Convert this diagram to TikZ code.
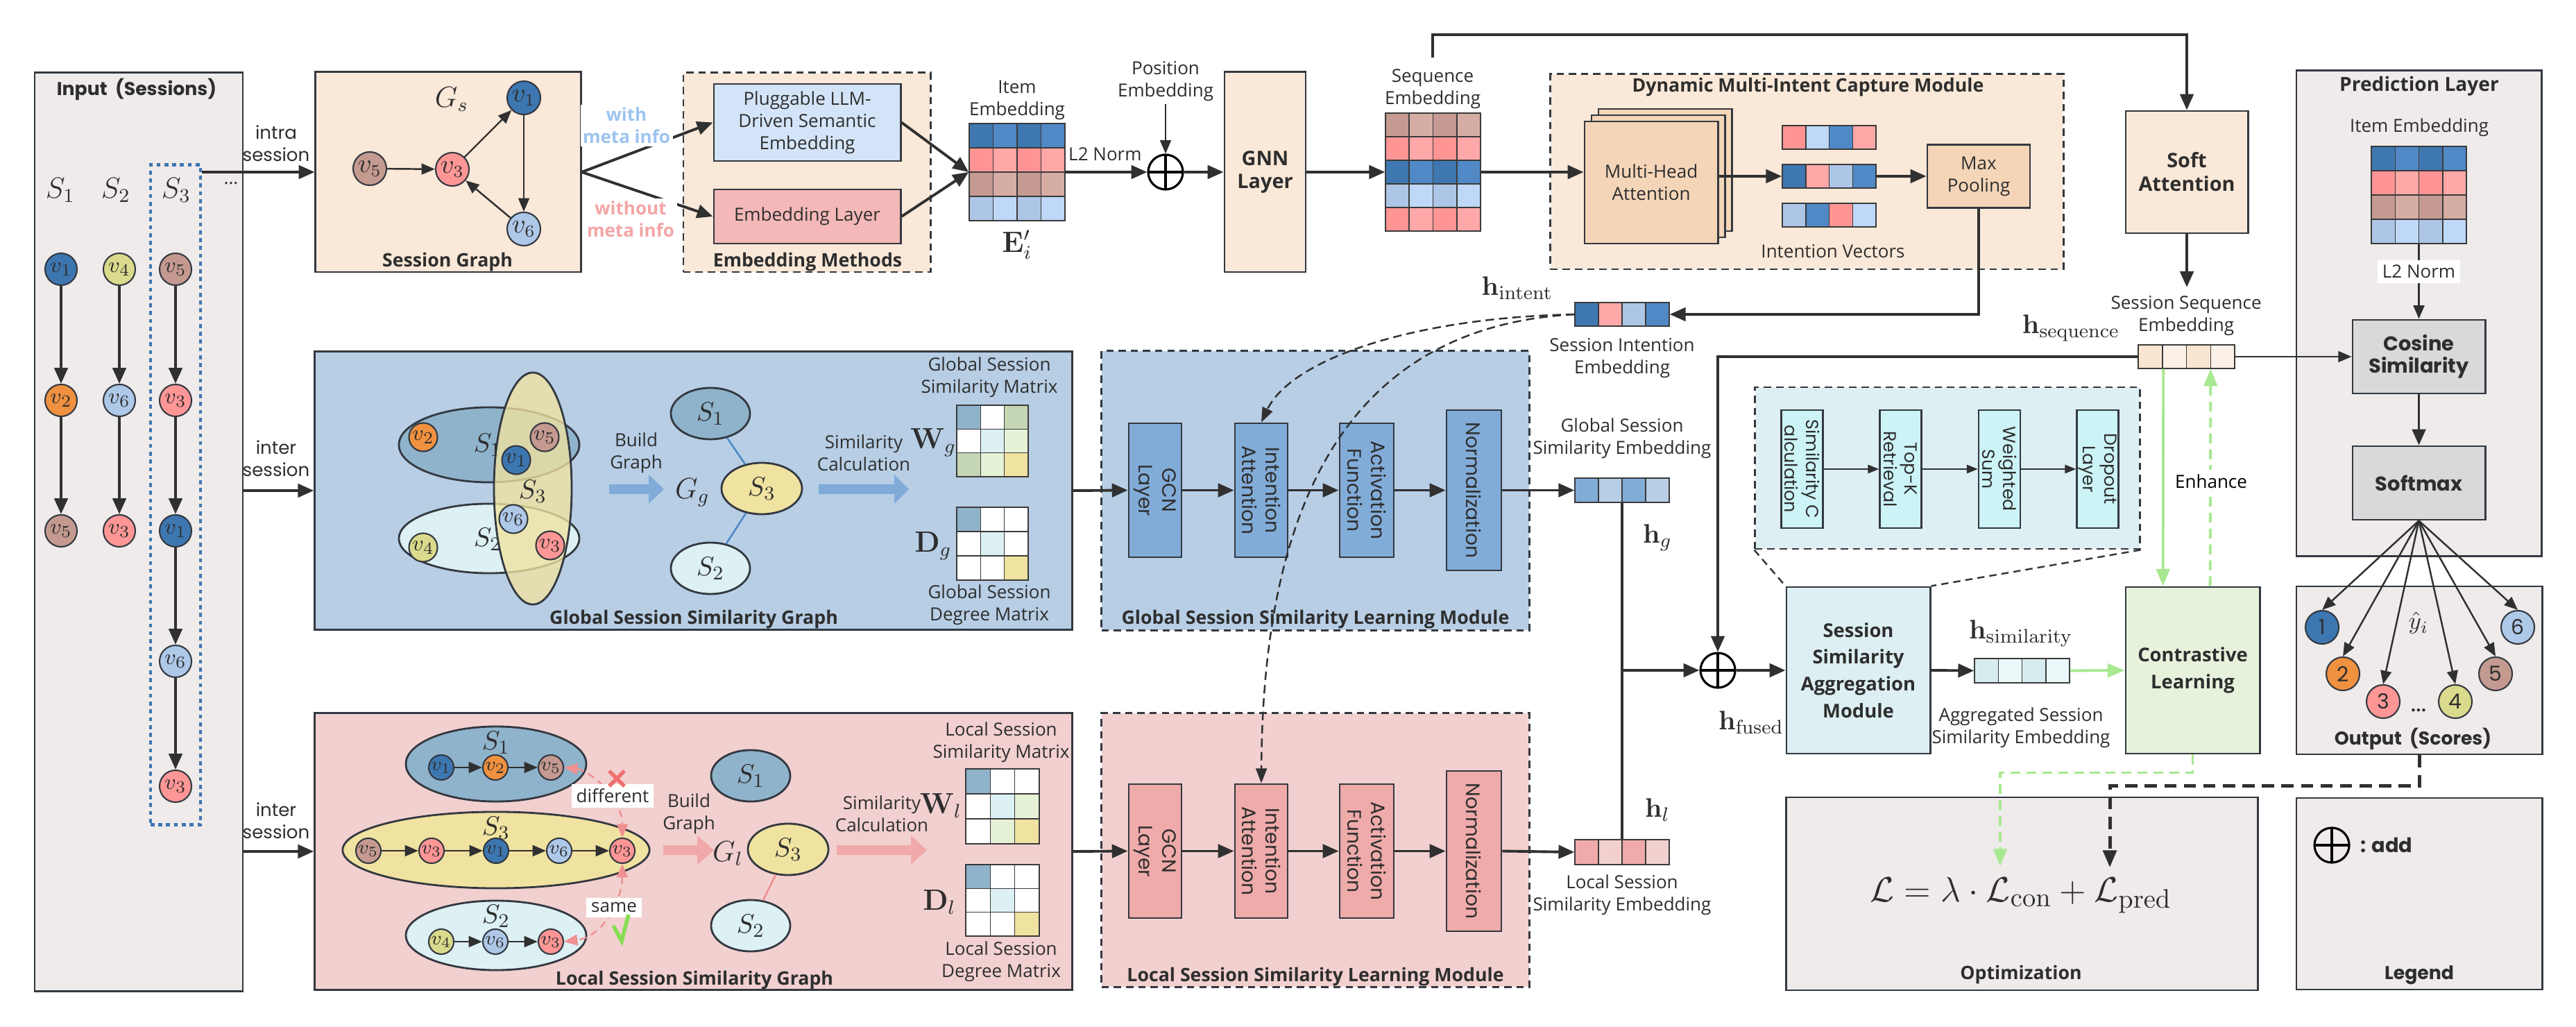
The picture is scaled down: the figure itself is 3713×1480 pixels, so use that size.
\documentclass[tikz,border=0pt]{standalone}
\usepackage[no-math]{fontspec}
\setmainfont{Open Sans}
\newfontfamily\wideff{Poppins}
\usepackage{amsmath}
\usetikzlibrary{arrows.meta,shapes.geometric,calc}

\definecolor{txt}{HTML}{2E2E2E}
\definecolor{bdc}{HTML}{333840}
\definecolor{arc}{HTML}{303030}
\definecolor{cellc}{HTML}{3A3A3A}
\definecolor{peach}{HTML}{FAE8D8}
\definecolor{tanc}{HTML}{F4D5B8}
\definecolor{plugc}{HTML}{D4E4F8}
\definecolor{elayc}{HTML}{F4B8B8}
\definecolor{greyc}{HTML}{EFEBEA}
\definecolor{gbgc}{HTML}{B7CEE5}
\definecolor{gboxc}{HTML}{82ACD8}
\definecolor{lbgc}{HTML}{F2D0D0}
\definecolor{lboxc}{HTML}{EFAAAA}
\definecolor{aggc}{HTML}{DDEFF2}
\definecolor{insc}{HTML}{CCF3F5}
\definecolor{conc}{HTML}{E6F2DC}
\definecolor{cosc}{HTML}{D9D9D9}
\definecolor{vA}{HTML}{3D77B1}
\definecolor{vB}{HTML}{F0913F}
\definecolor{vC}{HTML}{FF9696}
\definecolor{vD}{HTML}{DADA8C}
\definecolor{vE}{HTML}{C49A90}
\definecolor{vF}{HTML}{AEC8E8}
\definecolor{eS1}{HTML}{8FB3CB}
\definecolor{eS2}{HTML}{DDF0F3}
\definecolor{eS3}{HTML}{F0E2A0}
\definecolor{mG}{HTML}{C5D6B5}
\definecolor{mGl}{HTML}{E6F2D6}
\definecolor{cA}{HTML}{3F78B0}
\definecolor{cAl}{HTML}{5089C6}
\definecolor{cP}{HTML}{FF9494}
\definecolor{cPl}{HTML}{FFA8A8}
\definecolor{cBr}{HTML}{C49A92}
\definecolor{cBrl}{HTML}{D6ADA4}
\definecolor{cL}{HTML}{AEC6E6}
\definecolor{cLl}{HTML}{BFD8F8}
\definecolor{sq}{HTML}{FAE5D3}
\definecolor{sql}{HTML}{FCF1E8}
\definecolor{sm}{HTML}{D7ECEF}
\definecolor{sml}{HTML}{EAF8FA}
\definecolor{grn}{HTML}{A8E890}
\definecolor{withc}{HTML}{9DC3F0}
\definecolor{woc}{HTML}{F4A5A5}
\definecolor{barb}{HTML}{80ABD8}
\definecolor{barp}{HTML}{F0A8A8}
\definecolor{gedge}{HTML}{4A86C5}
\definecolor{pedge}{HTML}{F08C8C}
\definecolor{pdc}{HTML}{F09090}
\definecolor{dotc}{HTML}{3D77B1}
\definecolor{redx}{HTML}{F07070}
\definecolor{chk}{HTML}{88DD55}

\newcommand{\myLbl}{\fontsize{7.4}{9.1}\selectfont}
\newcommand{\myTtl}{\bfseries\fontsize{7.6}{9.2}\selectfont}
\newcommand{\myWide}{\wideff\fontsize{7.4}{9.1}\selectfont}
\newcommand{\myWideB}{\wideff\bfseries\fontsize{7.6}{9.2}\selectfont}
\newcommand{\myMath}{\fontsize{11}{12}\selectfont}
\newcommand{\myNode}{\fontsize{9.5}{10}\selectfont}

\newcommand{\cells}[5]{%
  \foreach \cc [count=\ii from 0] in {#5}{%
    \filldraw[fill=\cc, draw=cellc, line width=0.45pt] ({#1+\ii*#3},{#2}) rectangle ({#1+(\ii+1)*#3},{#2+#4});
  }%
}
\newcommand{\blkarrow}[5]{%
  \fill[#5] ({#1},{#4-7}) -- ({#2},{#4-7}) -- ({#2},{#4-21}) -- ({#3},{#4}) -- ({#2},{#4+21}) -- ({#2},{#4+7}) -- ({#1},{#4+7}) -- cycle;
}

\begin{document}
\begin{tikzpicture}[x=0.01cm, y=-0.01cm,
  box/.style={draw=bdc, line width=0.8pt, inner sep=0pt},
  dbox/.style={draw=bdc, line width=0.8pt, dash pattern=on 3pt off 2pt, inner sep=0pt},
  lbl/.style={font=\myLbl, text=txt, align=center, inner sep=1pt},
  ttl/.style={font=\myTtl, text=txt, align=center, inner sep=1pt},
  wlbl/.style={font=\myWide, text=txt, align=center, inner sep=1pt},
  wttl/.style={font=\myWideB, text=txt, align=center, inner sep=1pt},
  mth/.style={font=\myMath, text=txt, inner sep=1pt},
  arr/.style={draw=arc, line width=1.1pt, -{Triangle[length=6.5pt,width=5.5pt]}},
  marr/.style={draw=arc, line width=0.7pt, -{Triangle[length=5.5pt,width=4.5pt]}},
  tarr/.style={draw=arc, line width=0.5pt, -{Triangle[length=4.5pt,width=3.5pt]}},
  garr/.style={draw=grn, line width=1.1pt, -{Triangle[length=7pt,width=5.5pt]}},
  gdarr/.style={garr, dash pattern=on 4pt off 2.5pt},
  darr/.style={draw=arc, line width=0.7pt, dash pattern=on 3.5pt off 2pt, -{Triangle[length=6pt,width=4.5pt]}},
  vn/.style={circle, draw=bdc, line width=0.6pt, inner sep=0pt, text=txt, font=\myNode},
  vlbl/.style={font=\wideff\fontsize{8}{9.6}\selectfont, text=txt, align=center, inner sep=0pt, rotate=-90},
  oplus/.style={circle, draw=black, line width=0.9pt, minimum size=0.5cm, inner sep=0pt,
    path picture={\draw[line width=0.9pt] (path picture bounding box.north) -- (path picture bounding box.south) (path picture bounding box.west) -- (path picture bounding box.east);}},
  ell/.style={ellipse, draw=bdc, line width=0.8pt, inner sep=0pt},
]
\fill[white] (0,0) rectangle (3713,1480);
\useasboundingbox (0,0) rectangle (3713,1480);

%================ INPUT =================
\node[box, fill=greyc, minimum width=3.00cm, minimum height=13.23cm] (input) at (200,766.5) {};
\node[wttl] (inputt) at (197,129) {Input\ \ (Sessions)};
\node[mth, font=\fontsize{11.5}{12}\selectfont] (is1) at (87,274) {$S_1$};
\node[mth, font=\fontsize{11.5}{12}\selectfont] (is2) at (167,274) {$S_2$};
\node[mth, font=\fontsize{11.5}{12}\selectfont] (is3) at (254,274) {$S_3$};
\node[lbl] (idots) at (333,264) {...};
\node[draw=dotc, line width=1.3pt, dash pattern=on 1.6pt off 1.6pt, minimum width=0.72cm, minimum height=9.50cm, inner sep=0pt] (s3box) at (253,713) {};
\node[vn, fill=vA, minimum size=0.46cm] (i11) at (88,388) {$v_1$};
\node[vn, fill=vB, minimum size=0.46cm] (i12) at (88,577) {$v_2$};
\node[vn, fill=vE, minimum size=0.46cm] (i13) at (88,765) {$v_5$};
\node[vn, fill=vD, minimum size=0.46cm] (i21) at (172,388) {$v_4$};
\node[vn, fill=vF, minimum size=0.46cm] (i22) at (172,577) {$v_6$};
\node[vn, fill=vC, minimum size=0.46cm] (i23) at (172,765) {$v_3$};
\node[vn, fill=vE, minimum size=0.46cm] (i31) at (253,388) {$v_5$};
\node[vn, fill=vC, minimum size=0.46cm] (i32) at (253,577) {$v_3$};
\node[vn, fill=vA, minimum size=0.46cm] (i33) at (253,765) {$v_1$};
\node[vn, fill=vF, minimum size=0.46cm] (i34) at (253,953) {$v_6$};
\node[vn, fill=vC, minimum size=0.46cm] (i35) at (253,1133) {$v_3$};
\draw[arr] (i11) -- (i12); \draw[arr] (i12) -- (i13);
\draw[arr] (i21) -- (i22); \draw[arr] (i22) -- (i23);
\draw[arr] (i31) -- (i32); \draw[arr] (i32) -- (i33); \draw[arr] (i33) -- (i34); \draw[arr] (i34) -- (i35);

%================ SESSION GRAPH =================
\node[box, fill=peach, minimum width=3.82cm, minimum height=2.88cm] (sg) at (646,248) {};
\node[mth, font=\fontsize{12}{12}\selectfont] (gsl) at (651,143) {$G_s$};
\node[vn, fill=vE, minimum size=0.48cm, font=\fontsize{10.5}{11}\selectfont] (g5) at (533,243) {$v_5$};
\node[vn, fill=vC, minimum size=0.48cm, font=\fontsize{10.5}{11}\selectfont] (g3) at (652,244) {$v_3$};
\node[vn, fill=vA, minimum size=0.48cm, font=\fontsize{10.5}{11}\selectfont] (g1) at (755,141) {$v_1$};
\node[vn, fill=vF, minimum size=0.48cm, font=\fontsize{10.5}{11}\selectfont] (g6) at (755,330) {$v_6$};
\draw[marr] (g5) -- (g3); \draw[marr] (g3) -- (g1); \draw[marr] (g1) -- (g6); \draw[marr] (g6) -- (g3);
\node[ttl] (sgt) at (645,378) {Session Graph};

%================ EMBEDDING METHODS =================
\node[dbox, fill=peach, minimum width=3.56cm, minimum height=2.87cm] (embm) at (1163,248.5) {};
\node[box, lbl, fill=plugc, minimum width=2.69cm, minimum height=1.11cm] (plug) at (1163.5,176.5) {Pluggable LLM-\\Driven Semantic\\Embedding};
\node[box, lbl, fill=elayc, minimum width=2.69cm, minimum height=0.78cm] (emblayer) at (1163.5,312) {Embedding Layer};
\node[ttl] (embmt) at (1164,378) {Embedding Methods};
\draw[arr] (sg.east) -- (plug.west);
\draw[arr] (sg.east) -- (emblayer.west);
\node[lbl, font=\bfseries\myLbl, text=withc, fill=white] (withl) at (903,181) {with\\meta info};
\node[lbl, font=\bfseries\myLbl, text=woc, fill=white] (wol) at (909,316) {without\\meta info};

%================ ITEM EMBEDDING / GNN =================
\node[lbl] (itemembl) at (1466,144) {Item\\Embedding};
\node[inner sep=0pt, minimum width=1.38cm, minimum height=1.40cm] (itemmat) at (1466,248) {};
\cells{1397}{178}{34.5}{35}{cA,cAl,cA,cAl}
\cells{1397}{213}{34.5}{35}{cP,cPl,cP,cPl}
\cells{1397}{248}{34.5}{35}{cBr,cBrl,cBr,cBrl}
\cells{1397}{283}{34.5}{35}{cL,cLl,cL,cLl}
\node[mth, font=\fontsize{12}{12}\selectfont] (eil) at (1466,353) {$\mathbf{E}_i'$};
\node[lbl, anchor=west] (l2a) at (1536,222) {L2 Norm};
\draw[arr] (plug.east) -- (itemmat.west);
\draw[arr] (emblayer.east) -- (itemmat.west);
\node[oplus] (op1) at (1680,248) {};
\node[lbl] (posl) at (1680,117) {Position\\Embedding};
\draw[marr] (posl.south) -- (op1.north);
\draw[arr] (itemmat.east) -- (op1.west);
\node[box, ttl, fill=peach, font=\bfseries\fontsize{8.2}{9.6}\selectfont, minimum width=1.17cm, minimum height=2.88cm] (gnn) at (1823.5,248) {GNN\\Layer};
\draw[arr] (op1.east) -- (gnn.west);

\node[lbl] (seql) at (2065,128) {Sequence\\Embedding};
\node[inner sep=0pt, minimum width=1.37cm, minimum height=1.70cm] (seqmat) at (2065.5,248) {};
\cells{1997}{163}{34.25}{34}{cBr,cBrl,cBr,cBrl}
\cells{1997}{197}{34.25}{34}{cP,cPl,cP,cPl}
\cells{1997}{231}{34.25}{34}{cA,cAl,cA,cAl}
\cells{1997}{265}{34.25}{34}{cL,cLl,cL,cLl}
\cells{1997}{299}{34.25}{34}{cP,cPl,cP,cPl}
\draw[arr] (gnn.east) -- (seqmat.west);

%================ DYNAMIC MULTI-INTENT =================
\node[dbox, fill=peach, minimum width=7.39cm, minimum height=2.81cm] (dmic) at (2604.5,247.5) {};
\node[ttl] (dmict) at (2606,126) {Dynamic Multi-Intent Capture Module};
\node[box, fill=tanc, minimum width=1.92cm, minimum height=1.76cm] (mha3) at (2400,245) {};
\node[box, fill=tanc, minimum width=1.92cm, minimum height=1.76cm] (mha2) at (2390,254) {};
\node[box, lbl, fill=tanc, minimum width=1.92cm, minimum height=1.76cm] (mha) at (2380,263) {Multi-Head\\Attention};
\draw[arr] (seqmat.east) -- (mha.west |- seqmat.east);
\node[inner sep=0pt, minimum width=1.35cm, minimum height=0.34cm] (iv1) at (2636.5,198) {};
\node[inner sep=0pt, minimum width=1.35cm, minimum height=0.34cm] (iv2) at (2636.5,254) {};
\node[inner sep=0pt, minimum width=1.35cm, minimum height=0.34cm] (iv3) at (2636.5,310) {};
\cells{2569}{181}{33.75}{34}{cP,cLl,cAl,cPl}
\cells{2569}{237}{33.75}{34}{cA,cPl,cL,cAl}
\cells{2569}{293}{33.75}{34}{cL,cAl,cP,cLl}
\node[lbl] (ivl) at (2642,362) {Intention Vectors};
\node[box, lbl, fill=tanc, minimum width=1.48cm, minimum height=0.91cm] (maxpool) at (2852,254) {Max\\Pooling};
\draw[arr] (mha.east |- iv2.west) -- (iv2.west);
\draw[arr] (iv2.east) -- (maxpool.west);

\node[inner sep=0pt, minimum width=1.36cm, minimum height=0.34cm] (sessint) at (2338,453) {};
\cells{2270}{436}{34}{34}{cA,cPl,cL,cAl}
\node[mth] (hint) at (2187,415) {$\mathbf{h}_{\mathrm{intent}}$};
\node[lbl] (sintl) at (2338,516) {Session Intention\\Embedding};
\draw[arr] (maxpool.south) |- (sessint.east);

%================ SOFT ATTENTION =================
\node[box, ttl, fill=peach, font=\bfseries\fontsize{8.2}{9.6}\selectfont, minimum width=1.76cm, minimum height=1.76cm] (softatt) at (3152,248) {Soft\\Attention};
\coordinate (seqtop) at (2065,83);
\draw[arr] (seqtop) -- ++(0,-33) -| (softatt.north);
\coordinate (ssend) at (3152,414);
\draw[arr] (softatt.south) -- (ssend);
\node[lbl] (ssel) at (3151,455) {Session Sequence\\Embedding};
\node[mth] (hseq) at (2985,473) {$\mathbf{h}_{\mathrm{sequence}}$};
\node[inner sep=0pt, minimum width=1.39cm, minimum height=0.34cm] (seqvec) at (3151.5,514) {};
\cells{3082}{497}{34.75}{34}{sq,sql,sq,sql}

%================ PREDICTION LAYER =================
\node[box, fill=greyc, minimum width=3.53cm, minimum height=6.99cm] (pred) at (3486.5,451.5) {};
\node[ttl, font=\bfseries\fontsize{8}{9.5}\selectfont] (predt) at (3487,124) {Prediction Layer};
\node[lbl] (pitl) at (3487,184) {Item Embedding};
\node[inner sep=0pt, minimum width=1.37cm, minimum height=1.40cm] (predmat) at (3486.5,281) {};
\cells{3418}{211}{34.25}{35}{cA,cAl,cA,cAl}
\cells{3418}{246}{34.25}{35}{cP,cPl,cP,cPl}
\cells{3418}{281}{34.25}{35}{cBr,cBrl,cBr,cBrl}
\cells{3418}{316}{34.25}{35}{cL,cLl,cL,cLl}
\node[box, wttl, font=\wideff\bfseries\fontsize{8.2}{9.2}\selectfont, fill=cosc, minimum width=1.91cm, minimum height=1.06cm] (cosine) at (3486.5,514) {Cosine\\Similarity};
\node[box, wttl, font=\wideff\bfseries\fontsize{8.2}{9.2}\selectfont, fill=cosc, minimum width=1.91cm, minimum height=1.06cm] (softmax) at (3486.5,696) {Softmax};
\draw[marr] (predmat.south) -- (cosine.north) node[pos=0.37, lbl, fill=white, inner sep=2pt] (l2b) {L2 Norm};
\draw[arr] (cosine.south) -- (softmax.north);
\draw[marr] (seqvec.east) -- (cosine.west);

\node[box, fill=greyc, minimum width=3.54cm, minimum height=2.42cm] (output) at (3487,966) {};
\node[vn, fill=vA, minimum size=0.48cm, font=\wideff\fontsize{8.5}{8.5}\selectfont] (o1) at (3347,904) {1};
\node[vn, fill=vB, minimum size=0.48cm, font=\wideff\fontsize{8.5}{8.5}\selectfont] (o2) at (3377,971) {2};
\node[vn, fill=vC, minimum size=0.48cm, font=\wideff\fontsize{8.5}{8.5}\selectfont] (o3) at (3435,1011) {3};
\node[vn, fill=vD, minimum size=0.48cm, font=\wideff\fontsize{8.5}{8.5}\selectfont] (o4) at (3539,1011) {4};
\node[vn, fill=vE, minimum size=0.48cm, font=\wideff\fontsize{8.5}{8.5}\selectfont] (o5) at (3597,971) {5};
\node[vn, fill=vF, minimum size=0.48cm, font=\wideff\fontsize{8.5}{8.5}\selectfont] (o6) at (3629,904) {6};
\foreach \k in {1,...,6}{\draw[marr] (softmax.south) -- (o\k.north);}
\node[mth, font=\fontsize{10}{10}\selectfont] (yhat) at (3486,898) {$\hat{y}_i$};
\node[lbl, font=\bfseries\myLbl] (odots) at (3486,1024) {...};
\node[wttl] (outt) at (3478,1065) {Output\ \ (Scores)};

\node[box, fill=greyc, minimum width=3.54cm, minimum height=2.76cm] (legend) at (3487,1288) {};
\node[oplus] (legop) at (3361,1218) {};
\node[wttl, font=\wideff\bfseries\fontsize{8.2}{9.2}\selectfont, anchor=west] (legadd) at (3398,1218) {: add};
\node[wttl] (legt) at (3487,1405) {Legend};

%================ OPTIMIZATION =================
\node[box, fill=greyc, minimum width=6.79cm, minimum height=2.78cm] (optim) at (2914.5,1288) {};
\node[text=txt, font=\fontsize{15}{16}\selectfont] (formula) at (2913,1290) {$\mathcal{L} = \lambda \cdot \mathcal{L}_{\mathrm{con}} + \mathcal{L}_{\mathrm{pred}}$};
\node[ttl] (optt) at (2913,1405) {Optimization};
\coordinate (predend) at (3041,1250);
\coordinate (conend) at (2883,1248);

%================ AGGREGATION / CONTRASTIVE =================
\node[box, fill=conc, font=\bfseries\fontsize{7.8}{11}\selectfont, text=txt, align=center, minimum width=1.93cm, minimum height=2.40cm] (contrast) at (3160.5,966) {Contrastive\\Learning};
\node[box, fill=aggc, font=\bfseries\fontsize{7.8}{11}\selectfont, text=txt, align=center, minimum width=2.07cm, minimum height=2.40cm] (aggr) at (2678.5,966) {Session\\Similarity\\Aggregation\\Module};
\node[oplus] (fuse) at (2476,966) {};
\node[mth] (hfused) at (2524,1041) {$\mathbf{h}_{\mathrm{fused}}$};
\node[inner sep=0pt, minimum width=1.37cm, minimum height=0.35cm] (simvec) at (2914.5,966.5) {};
\cells{2846}{949}{34.25}{35}{sm,sml,sm,sml}
\node[mth] (hsim) at (2913,913) {$\mathbf{h}_{\mathrm{similarity}}$};
\node[lbl] (aggl) at (2913,1049) {Aggregated Session\\Similarity Embedding};
\draw[arr] (fuse.east) -- (aggr.west);
\draw[arr] (aggr.east) -- (simvec.west);
\draw[garr] (simvec.east) -- (contrast.west);
\draw[arr] (seqvec.west) -| (fuse.north);
\draw[garr] ([xshift=0.37cm]seqvec.south west) -- ([xshift=0.55cm]contrast.north west);
\draw[gdarr] ([xshift=1.23cm]contrast.north west) -- ([xshift=1.05cm]seqvec.south west);
\node[lbl, text=black, fill=white, inner sep=2pt] (enh) at (3187,694) {Enhance};

\node[dbox, fill=aggc, minimum width=5.54cm, minimum height=2.33cm] (inset) at (2807,674.5) {};
\node[box, fill=insc, line width=0.7pt, minimum width=0.60cm, minimum height=1.70cm] (ib1) at (2597.5,676) {};
\node[box, fill=insc, line width=0.7pt, minimum width=0.60cm, minimum height=1.70cm] (ib2) at (2739.5,676) {};
\node[box, fill=insc, line width=0.7pt, minimum width=0.60cm, minimum height=1.70cm] (ib3) at (2882,676) {};
\node[box, fill=insc, line width=0.7pt, minimum width=0.60cm, minimum height=1.70cm] (ib4) at (3023.5,676) {};
\node[vlbl, font=\wideff\fontsize{7.2}{8.6}\selectfont] (ib1t) at (ib1) {Similarity C\\alculation};
\node[vlbl, font=\wideff\fontsize{7.2}{8.6}\selectfont] (ib2t) at (ib2) {Top-K\\Retrieval};
\node[vlbl, font=\wideff\fontsize{7.2}{8.6}\selectfont] (ib3t) at (ib3) {Weighted\\Sum};
\node[vlbl, font=\wideff\fontsize{7.2}{8.6}\selectfont] (ib4t) at (ib4) {Dropout\\Layer};
\draw[tarr] (ib1.east) -- (ib2.west);
\draw[tarr] (ib2.east) -- (ib3.west);
\draw[tarr] (ib3.east) -- (ib4.west);
\draw[draw=bdc, line width=0.7pt, dash pattern=on 3pt off 2pt] (inset.south west) -- (aggr.north west);
\draw[draw=bdc, line width=0.7pt, dash pattern=on 3pt off 2pt] (inset.south east) -- (aggr.north east);

%================ GLOBAL GRAPH =================
\node[box, fill=gbgc, minimum width=10.91cm, minimum height=4.00cm] (ggraph) at (999.5,707) {};
\node[ell, fill=eS1, minimum width=2.60cm, minimum height=1.08cm] (gS1) at (705,641) {};
\node[ell, fill=eS2, minimum width=2.60cm, minimum height=1.00cm] (gS2) at (705,776) {};
\node[mth, font=\fontsize{11}{11}\selectfont] (gS1l) at (703,641) {$S_1$};
\node[mth, font=\fontsize{11}{11}\selectfont] (gS2l) at (703,777) {$S_2$};
\node[ell, fill=eS3, fill opacity=0.78, minimum width=1.12cm, minimum height=3.34cm] (gS3) at (768,704) {};
\node[vn, fill=vB, minimum size=0.41cm] (gv2) at (610,630) {$v_2$};
\node[vn, fill=vD, minimum size=0.41cm] (gv4) at (610,789) {$v_4$};
\node[vn, fill=vE, minimum size=0.41cm] (gv5) at (785,630) {$v_5$};
\node[vn, fill=vA, minimum size=0.41cm] (gv1) at (744,663) {$v_1$};
\node[vn, fill=vF, minimum size=0.41cm] (gv6) at (740,748) {$v_6$};
\node[vn, fill=vC, minimum size=0.41cm] (gv3) at (793,786) {$v_3$};
\node[mth, font=\fontsize{11}{11}\selectfont] (gS3l) at (768,708) {$S_3$};
\blkarrow{878}{935}{957}{705}{barb}
\node[lbl] (gbuild) at (917,653) {Build\\Graph};
\node[mth, font=\fontsize{12}{12}\selectfont] (ggl) at (998,710) {$G_g$};
\node[ell, fill=eS1, minimum width=1.14cm, minimum height=0.74cm] (gc1) at (1024,596) {};
\node[ell, fill=eS3, minimum width=1.16cm, minimum height=0.74cm] (gc3) at (1098,704) {};
\node[ell, fill=eS2, minimum width=1.14cm, minimum height=0.74cm] (gc2) at (1024,819) {};
\node[mth, font=\fontsize{11}{11}\selectfont] at (gc1) (gc1l) {$S_1$};
\node[mth, font=\fontsize{11}{11}\selectfont] at (gc3) (gc3l) {$S_3$};
\node[mth, font=\fontsize{11}{11}\selectfont] at (gc2) (gc2l) {$S_2$};
\draw[draw=gedge, line width=0.7pt] (gc1) -- (gc3);
\draw[draw=gedge, line width=0.7pt] (gc3) -- (gc2);
\blkarrow{1180}{1289}{1310}{705}{barb}
\node[lbl] (gsim) at (1245,653) {Similarity\\Calculation};
\node[mth, font=\fontsize{12}{12}\selectfont] (wgl) at (1345,638) {$\mathbf{W}_g$};
\node[mth, font=\fontsize{12}{12}\selectfont] (dgl) at (1345,787) {$\mathbf{D}_g$};
\node[inner sep=0pt, minimum width=1.03cm, minimum height=1.03cm] (wgm) at (1430.5,635.5) {};
\cells{1379}{584}{34.33}{34.33}{eS1,white,mG}
\cells{1379}{618.33}{34.33}{34.33}{white,eS2,mGl}
\cells{1379}{652.66}{34.33}{34.33}{mG,mGl,eS3}
\node[inner sep=0pt, minimum width=1.03cm, minimum height=1.05cm] (dgm) at (1430.5,783.5) {};
\cells{1379}{731}{34.33}{35}{eS1,white,white}
\cells{1379}{766}{34.33}{35}{white,eS2,white}
\cells{1379}{801}{34.33}{35}{white,white,eS3}
\node[lbl] (wgt) at (1426,544) {Global Session\\Similarity Matrix};
\node[lbl] (dgt) at (1426,872) {Global Session\\Degree Matrix};
\node[ttl] (ggt) at (1000,893) {Global Session Similarity Graph};

%================ GLOBAL MODULE =================
\node[dbox, fill=gbgc, minimum width=6.16cm, minimum height=4.02cm] (gmod) at (1896,707) {};
\node[box, fill=gboxc, minimum width=0.76cm, minimum height=1.93cm] (ggcn) at (1665,706.5) {};
\node[box, fill=gboxc, minimum width=0.76cm, minimum height=1.93cm] (gatt) at (1818,706.5) {};
\node[box, fill=gboxc, minimum width=0.78cm, minimum height=1.93cm] (gact) at (1970,706.5) {};
\node[box, fill=gboxc, minimum width=0.79cm, minimum height=2.31cm] (gnorm) at (2124.5,706.5) {};
\node[vlbl] (ggcnt) at (ggcn) {GCN\\Layer};
\node[vlbl] (gattt) at (gatt) {Intention\\Attention};
\node[vlbl] (gactt) at (gact) {Activation\\Function};
\node[vlbl] (gnormt) at (gnorm) {Normalization};
\node[ttl] (gmodt) at (1896,893) {Global Session Similarity Learning Module};
\node[inner sep=0pt, minimum width=1.36cm, minimum height=0.35cm] (gvec) at (2338,706.5) {};
\cells{2270}{689}{34}{35}{gboxc,gbgc,gboxc,gbgc}
\node[lbl] (gvecl) at (2338,632) {Global Session\\Similarity Embedding};
\node[mth] (hgl) at (2389,775) {$\mathbf{h}_g$};
\draw[arr] (ggraph.east) -- (ggcn.west);
\draw[arr] (ggcn.east) -- (gatt.west);
\draw[arr] (gatt.east) -- (gact.west);
\draw[arr] (gact.east) -- (gnorm.west);
\draw[arr] (gnorm.east) -- (gvec.west);

%================ LOCAL GRAPH =================
\node[box, fill=lbgc, minimum width=10.91cm, minimum height=3.98cm] (lgraph) at (999.5,1227) {};
\node[ell, fill=eS1, minimum width=2.60cm, minimum height=1.08cm] (lS1) at (715,1101) {};
\node[ell, fill=eS3, minimum width=4.42cm, minimum height=1.10cm] (lS3) at (715,1225) {};
\node[ell, fill=eS2, minimum width=2.60cm, minimum height=1.00cm] (lS2) at (715,1348) {};
\node[mth, font=\fontsize{11}{11}\selectfont] (lS1l) at (715,1070) {$S_1$};
\node[mth, font=\fontsize{11}{11}\selectfont] (lS3l) at (715,1193) {$S_3$};
\node[mth, font=\fontsize{11}{11}\selectfont] (lS2l) at (715,1320) {$S_2$};
\node[vn, fill=vA, minimum size=0.36cm, font=\fontsize{8.5}{9}\selectfont] (la1) at (636,1106) {$v_1$};
\node[vn, fill=vB, minimum size=0.36cm, font=\fontsize{8.5}{9}\selectfont] (la2) at (714,1106) {$v_2$};
\node[vn, fill=vE, minimum size=0.36cm, font=\fontsize{8.5}{9}\selectfont] (la3) at (794,1106) {$v_5$};
\node[vn, fill=vE, minimum size=0.36cm, font=\fontsize{8.5}{9}\selectfont] (lb1) at (531,1226) {$v_5$};
\node[vn, fill=vC, minimum size=0.36cm, font=\fontsize{8.5}{9}\selectfont] (lb2) at (622,1226) {$v_3$};
\node[vn, fill=vA, minimum size=0.36cm, font=\fontsize{8.5}{9}\selectfont] (lb3) at (715,1226) {$v_1$};
\node[vn, fill=vF, minimum size=0.36cm, font=\fontsize{8.5}{9}\selectfont] (lb4) at (806,1226) {$v_6$};
\node[vn, fill=vC, minimum size=0.36cm, font=\fontsize{8.5}{9}\selectfont] (lb5) at (897,1226) {$v_3$};
\node[vn, fill=vD, minimum size=0.36cm, font=\fontsize{8.5}{9}\selectfont] (lc1n) at (636,1357) {$v_4$};
\node[vn, fill=vF, minimum size=0.36cm, font=\fontsize{8.5}{9}\selectfont] (lc2n) at (714,1357) {$v_6$};
\node[vn, fill=vC, minimum size=0.36cm, font=\fontsize{8.5}{9}\selectfont] (lc3n) at (794,1357) {$v_3$};
\draw[marr] (la1) -- (la2); \draw[marr] (la2) -- (la3);
\draw[marr] (lb1) -- (lb2); \draw[marr] (lb2) -- (lb3); \draw[marr] (lb3) -- (lb4); \draw[marr] (lb4) -- (lb5);
\draw[marr] (lc1n) -- (lc2n); \draw[marr] (lc2n) -- (lc3n);
\draw[draw=pdc, line width=0.7pt, dash pattern=on 3pt off 2pt, {Triangle[length=5.5pt,width=4.5pt,fill=pdc]}-{Triangle[length=5.5pt,width=4.5pt,fill=pdc]}] (la3.east) .. controls (850,1110) and (897,1150) .. (lb5.north);
\draw[draw=pdc, line width=0.7pt, dash pattern=on 3pt off 2pt, {Triangle[length=5.5pt,width=4.5pt,fill=pdc]}-{Triangle[length=5.5pt,width=4.5pt,fill=pdc]}] (lb5.south) .. controls (897,1295) and (870,1350) .. (lc3n.east);
\node[lbl, fill=white, inner sep=2pt] (diffl) at (883,1147) {different};
\node[lbl, fill=white, inner sep=2pt] (samel) at (885,1308) {same};
\draw[draw=redx, line width=1.6pt] (878,1111) -- (900,1133) (878,1133) -- (900,1111);
\draw[draw=chk, line width=1.6pt] (884,1334) -- (896,1356) -- (906,1318);
\blkarrow{956}{1005}{1029}{1225}{barp}
\node[lbl] (lbuild) at (993,1173) {Build\\Graph};
\node[mth, font=\fontsize{12}{12}\selectfont] (lgl) at (1049,1230) {$G_l$};
\node[ell, fill=eS1, minimum width=1.14cm, minimum height=0.74cm] (lc1) at (1082,1118) {};
\node[ell, fill=eS3, minimum width=1.16cm, minimum height=0.74cm] (lc3) at (1136,1224) {};
\node[ell, fill=eS2, minimum width=1.14cm, minimum height=0.74cm] (lc2) at (1082,1334) {};
\node[mth, font=\fontsize{11}{11}\selectfont] at (lc1) (lc1l) {$S_1$};
\node[mth, font=\fontsize{11}{11}\selectfont] at (lc3) (lc3l) {$S_3$};
\node[mth, font=\fontsize{11}{11}\selectfont] at (lc2) (lc2l) {$S_2$};
\draw[draw=pedge, line width=0.7pt] (lc3) -- (lc2);
\blkarrow{1206}{1313}{1336}{1225}{barp}
\node[lbl] (lsim) at (1271,1173) {Similarity\\Calculation};
\node[mth, font=\fontsize{12}{12}\selectfont] (wll) at (1356,1161) {$\mathbf{W}_l$};
\node[mth, font=\fontsize{12}{12}\selectfont] (dll) at (1354,1300) {$\mathbf{D}_l$};
\node[inner sep=0pt, minimum width=1.06cm, minimum height=1.08cm] (wlm) at (1445,1162) {};
\cells{1392}{1108}{35.33}{36}{eS1,white,white}
\cells{1392}{1144}{35.33}{36}{white,eS2,mGl}
\cells{1392}{1180}{35.33}{36}{white,mGl,eS3}
\node[inner sep=0pt, minimum width=1.06cm, minimum height=1.03cm] (dlm) at (1445,1297.5) {};
\cells{1392}{1246}{35.33}{34.33}{eS1,white,white}
\cells{1392}{1280.33}{35.33}{34.33}{white,eS2,white}
\cells{1392}{1314.66}{35.33}{34.33}{white,white,eS3}
\node[lbl] (wlt) at (1443,1070) {Local Session\\Similarity Matrix};
\node[lbl] (dlt) at (1443,1386) {Local Session\\Degree Matrix};
\node[ttl] (lgt) at (1001,1413) {Local Session Similarity Graph};

%================ LOCAL MODULE =================
\node[dbox, fill=lbgc, minimum width=6.16cm, minimum height=3.94cm] (lmod) at (1896,1225) {};
\node[box, fill=lboxc, minimum width=0.76cm, minimum height=1.93cm] (lgcn) at (1665,1226.5) {};
\node[box, fill=lboxc, minimum width=0.76cm, minimum height=1.93cm] (latt) at (1818,1226.5) {};
\node[box, fill=lboxc, minimum width=0.78cm, minimum height=1.93cm] (lact) at (1970,1226.5) {};
\node[box, fill=lboxc, minimum width=0.79cm, minimum height=2.31cm] (lnorm) at (2124.5,1226.5) {};
\node[vlbl] (lgcnt) at (lgcn) {GCN\\Layer};
\node[vlbl] (lattt) at (latt) {Intention\\Attention};
\node[vlbl] (lactt) at (lact) {Activation\\Function};
\node[vlbl] (lnormt) at (lnorm) {Normalization};
\node[ttl] (lmodt) at (1896,1408) {Local Session Similarity Learning Module};
\node[inner sep=0pt, minimum width=1.36cm, minimum height=0.36cm] (lvec) at (2338,1228) {};
\cells{2270}{1210}{34}{36}{lboxc,lbgc,lboxc,lbgc}
\node[lbl] (lvecl) at (2338,1290) {Local Session\\Similarity Embedding};
\node[mth] (hll) at (2389,1167) {$\mathbf{h}_l$};
\draw[arr] (lgraph.east) -- (lgcn.west);
\draw[arr] (lgcn.east) -- (latt.west);
\draw[arr] (latt.east) -- (lact.west);
\draw[arr] (lact.east) -- (lnorm.west);
\draw[arr] (lnorm.east) -- (lvec.west);

%================ CROSS CONNECTORS =================
\draw[arr] (s3box.north east |- sg.west) -- (sg.west);
\node[wlbl] (intral) at (398,207) {intra\\session};
\draw[arr] (input.east |- ggraph.west) -- (ggraph.west);
\node[wlbl] (interg) at (398,661) {inter\\session};
\draw[arr] (input.east |- lgraph.west) -- (lgraph.west);
\node[wlbl] (interl) at (398,1183) {inter\\session};

\draw[draw=arc, line width=1.1pt] (gvec.south) -- (lvec.north);
\draw[arr] (gvec.south |- fuse.west) -- (fuse.west);

\draw[darr] (sessint.west) .. controls (2030,458) and (1860,520) .. (gatt.north);
\draw[darr] (sessint.west) .. controls (1960,470) and (1820,700) .. (latt.north);

\draw[draw=arc, line width=1.4pt, dash pattern=on 5pt off 3pt, -{Triangle[length=7pt,width=5.5pt]}] (output.south) -- ++(0,44) -| (predend);
\draw[gdarr] (contrast.south) -- ++(0,26) -| (conend);
\end{tikzpicture}
\end{document}
